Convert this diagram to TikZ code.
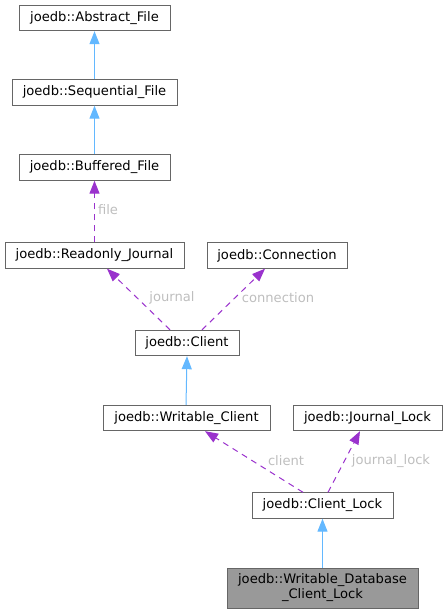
\documentclass[tikz,border=0pt]{standalone}
\usepackage{fontspec}
\setmainfont{DejaVu Sans}
\usetikzlibrary{arrows.meta}
\definecolor{boxline}{HTML}{666666}
\definecolor{inh}{HTML}{63B8FF}
\definecolor{use}{HTML}{9A32CD}
\definecolor{lbl}{HTML}{BEBEBE}
\definecolor{hl}{HTML}{999999}
\tikzset{
  cls/.style={draw=boxline, line width=0.9pt, fill=white, inner sep=0pt, minimum height=25.5pt,
    font=\fontsize{13.1}{15}\selectfont, text=black, align=center},
  inhedge/.style={draw=inh, line width=1pt, -{Triangle[length=13pt,width=10pt,fill=inh]}},
  useedge/.style={draw=use, line width=1pt, dash pattern=on 6pt off 5pt, -{Triangle[length=13pt,width=10pt,fill=use]}},
  elabel/.style={text=lbl, font=\fontsize{13.1}{15}\selectfont, inner sep=0pt}
}
\begin{document}
\begin{tikzpicture}[x=1pt,y=-1pt]
\useasboundingbox (0,0) rectangle (447,613);
\node[cls, minimum width=151pt] (AF) at (94.5,18) {joedb::Abstract\_File};
\node[cls, minimum width=165pt] (SF) at (94.5,92.5) {joedb::Sequential\_File};
\node[cls, minimum width=151pt] (BF) at (94.5,167.5) {joedb::Buffered\_File};
\node[cls, minimum width=179pt] (RJ) at (94.5,255.5) {joedb::Readonly\_Journal};
\node[cls, minimum width=140pt] (CN) at (277,255.5) {joedb::Connection};
\node[cls, minimum width=104pt] (CL) at (187,343) {joedb::Client};
\node[cls, minimum width=167pt] (WC) at (186.5,418) {joedb::Writable\_Client};
\node[cls, minimum width=149pt] (JL) at (367.5,418) {joedb::Journal\_Lock};
\node[cls, minimum width=141pt] (CK) at (322.5,505.5) {joedb::Client\_Lock};
\node[cls, fill=hl, minimum width=191pt, minimum height=40pt] (WD) at (322.5,588) {joedb::Writable\_Database\\\_Client\_Lock};

\draw[inhedge] (SF.north) -- (AF.south);
\draw[inhedge] (BF.north) -- (SF.south);
\draw[useedge] (RJ.north) -- (BF.south);
\draw[useedge] ([xshift=-17pt]CL.north) -- ([xshift=12.5pt]RJ.south);
\draw[useedge] ([xshift=15pt]CL.north) -- ([xshift=-12pt]CN.south);
\draw[inhedge] ([xshift=-0.5pt]WC.north) -- (CL.south);
\draw[useedge] ([xshift=-19.5pt]CK.north) -- ([xshift=18.5pt]WC.south);
\draw[useedge] ([xshift=5.5pt]CK.north) -- ([xshift=-7.5pt]JL.south);
\draw[inhedge] (WD.north) -- (CK.south);

\node[elabel] (lf) at (108,210) {file};
\node[elabel] (lj) at (172,298) {journal};
\node[elabel] (lc) at (278,298) {connection};
\node[elabel] (lcl) at (286,461) {client};
\node[elabel] (ljl) at (391,461) {journal\_lock};
\end{tikzpicture}
\end{document}
